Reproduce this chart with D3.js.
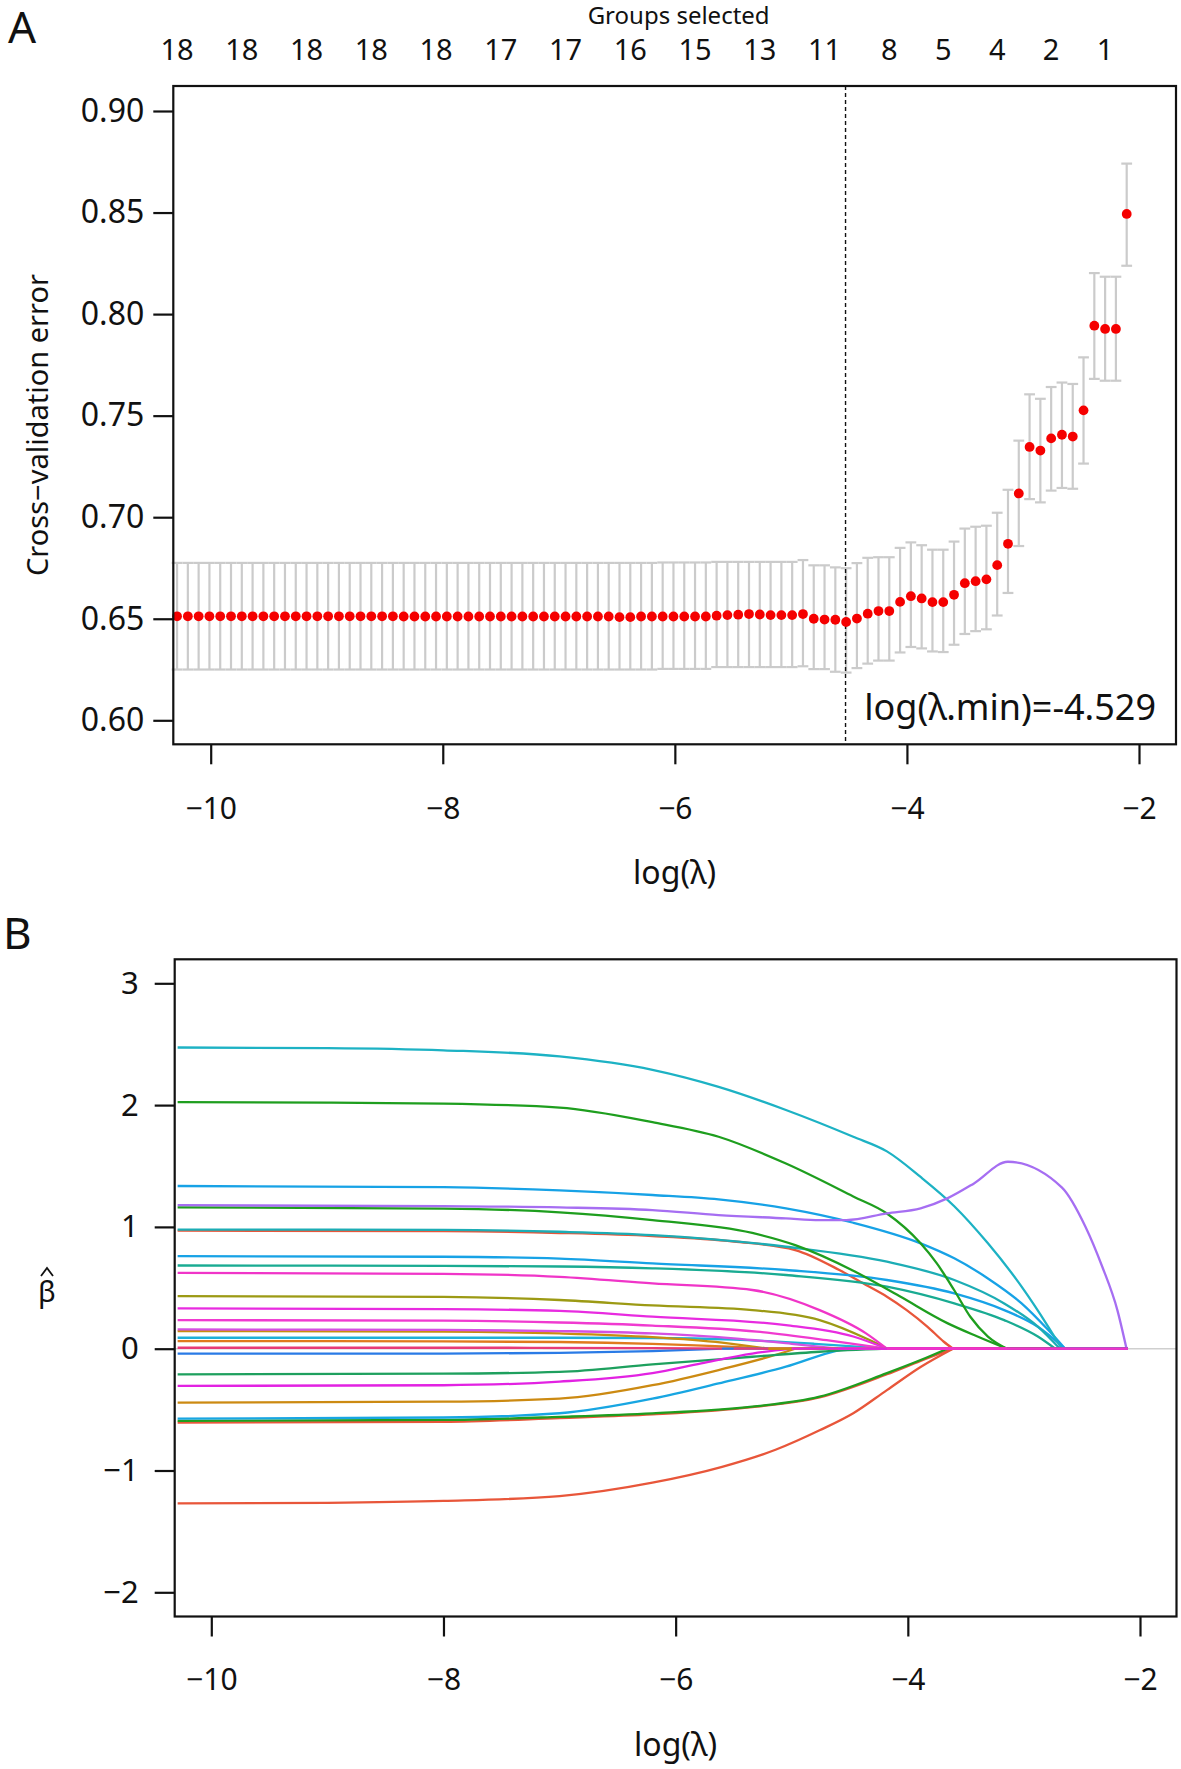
<!DOCTYPE html>
<html><head><meta charset="utf-8">
<script src="https://cdn.jsdelivr.net/npm/d3@7"></script>
<style>
body{margin:0;background:#fff;}
svg text{font-family:"Noto Sans","Open Sans",sans-serif;fill:#111;}
</style></head><body>
<svg id="c" width="1181" height="1769"></svg>
<script>
// ---------- Panel A data ----------
const logLambda = [
 -10.290,-10.197,-10.104,-10.011,-9.918,-9.825,-9.732,-9.639,-9.546,-9.453,
 -9.360,-9.267,-9.174,-9.081,-8.988,-8.895,-8.802,-8.709,-8.616,-8.523,
 -8.430,-8.337,-8.244,-8.151,-8.058,-7.965,-7.872,-7.779,-7.686,-7.593,
 -7.500,-7.407,-7.314,-7.221,-7.128,-7.035,-6.942,-6.849,-6.756,-6.663,
 -6.570,-6.477,-6.384,-6.291,-6.198,-6.105,-6.012,-5.919,-5.826,-5.733,
 -5.640,-5.547,-5.454,-5.361,-5.268,-5.175,-5.082,-4.989,-4.896,-4.803,
 -4.710,-4.617,-4.524,-4.431,-4.338,-4.245,-4.152,-4.059,-3.966,-3.873,
 -3.780,-3.687,-3.594,-3.501,-3.408,-3.315,-3.222,-3.129,-3.036,-2.943,
 -2.850,-2.757,-2.664,-2.571,-2.478,-2.385,-2.292,-2.199,-2.106];
const cvMean = [
 0.6512,0.6512,0.6512,0.6512,0.6512,0.6512,0.6512,0.6512,0.6512,0.6512,
 0.6512,0.6512,0.6512,0.6512,0.6512,0.6512,0.6512,0.6512,0.6512,0.6512,
 0.6512,0.6511,0.6511,0.6511,0.6511,0.6511,0.6511,0.6511,0.6511,0.6511,
 0.6511,0.6511,0.6511,0.6511,0.6511,0.6511,0.6511,0.6511,0.6511,0.6511,
 0.6511,0.6508,0.6508,0.6511,0.6511,0.6511,0.6511,0.6511,0.6511,0.6511,
 0.6515,0.6518,0.6520,0.6523,0.6521,0.6518,0.6518,0.6518,0.6523,0.6500,
 0.6496,0.6495,0.6484,0.6501,0.6525,0.6538,0.6538,0.6583,0.6611,0.6600,
 0.6582,0.6582,0.6618,0.6675,0.6685,0.6694,0.6764,0.6869,0.7117,0.7346,
 0.7328,0.7388,0.7406,0.7397,0.7526,0.7943,0.7927,0.7927,0.8493];
const cvUpper = [
 0.6775,0.6775,0.6775,0.6775,0.6775,0.6775,0.6775,0.6775,0.6775,0.6775,
 0.6775,0.6775,0.6775,0.6775,0.6775,0.6775,0.6775,0.6775,0.6775,0.6775,
 0.6775,0.6775,0.6775,0.6775,0.6775,0.6775,0.6775,0.6775,0.6775,0.6775,
 0.6775,0.6775,0.6775,0.6775,0.6775,0.6775,0.6775,0.6775,0.6775,0.6775,
 0.6775,0.6775,0.6775,0.6775,0.6775,0.6777,0.6777,0.6777,0.6777,0.6777,
 0.6780,0.6780,0.6780,0.6780,0.6780,0.6780,0.6780,0.6780,0.6789,0.6763,
 0.6763,0.6753,0.6749,0.6774,0.6800,0.6803,0.6803,0.6849,0.6876,0.6862,
 0.6840,0.6840,0.6880,0.6944,0.6953,0.6958,0.7022,0.7135,0.7377,0.7605,
 0.7583,0.7641,0.7663,0.7656,0.7787,0.8202,0.8184,0.8184,0.8741];
const cvLower = [
 0.6250,0.6250,0.6250,0.6250,0.6250,0.6250,0.6250,0.6250,0.6250,0.6250,
 0.6250,0.6250,0.6250,0.6250,0.6250,0.6250,0.6250,0.6250,0.6250,0.6250,
 0.6250,0.6250,0.6250,0.6250,0.6250,0.6250,0.6250,0.6250,0.6250,0.6250,
 0.6250,0.6250,0.6250,0.6250,0.6250,0.6250,0.6250,0.6250,0.6250,0.6250,
 0.6250,0.6250,0.6250,0.6250,0.6250,0.6253,0.6253,0.6253,0.6253,0.6253,
 0.6262,0.6262,0.6262,0.6262,0.6262,0.6262,0.6262,0.6262,0.6266,0.6252,
 0.6252,0.6239,0.6235,0.6257,0.6279,0.6294,0.6294,0.6334,0.6361,0.6354,
 0.6339,0.6336,0.6372,0.6425,0.6439,0.6448,0.6516,0.6627,0.6858,0.7089,
 0.7073,0.7131,0.7144,0.7140,0.7264,0.7681,0.7672,0.7672,0.8238];
const groupsAt = [-10.290,-9.732,-9.174,-8.616,-8.058,-7.500,-6.942,-6.384,-5.826,-5.268,-4.710,-4.152,-3.687,-3.222,-2.757,-2.292];
const groupsLabels = ["18","18","18","18","18","17","17","16","15","13","11","8","5","4","2","1"];
const xTicks = [-10,-8,-6,-4,-2];
const yTicksA = [0.60,0.65,0.70,0.75,0.80,0.85,0.90];
const lambdaMin = -4.529;

// ---------- Panel B data (coefficient paths, [logλ, β]) ----------
const yTicksB = [-2,-1,0,1,2,3];
const lambdaMax = -2.106;
const pCyan    = [[-10.29,2.473],[-9,2.468],[-8,2.45],[-7,2.40],[-6.2,2.29],[-5.63,2.15],[-5.05,1.96],[-4.47,1.74],[-4.18,1.62],[-3.89,1.41],[-3.6,1.17],[-3.31,0.865],[-3.02,0.51],[-2.79,0.18],[-2.674,0]];
const pGreen   = [[-10.29,2.025],[-9,2.02],[-8,2.012],[-7,1.98],[-6.2,1.86],[-5.63,1.74],[-5.05,1.52],[-4.47,1.25],[-4.18,1.11],[-3.89,0.865],[-3.75,0.70],[-3.6,0.48],[-3.46,0.26],[-3.31,0.10],[-3.147,0]];
const pBlue    = [[-10.29,1.336],[-8,1.326],[-7,1.30],[-6.2,1.262],[-5.63,1.226],[-5.05,1.152],[-4.47,1.034],[-3.89,0.865],[-3.6,0.742],[-3.31,0.577],[-3.02,0.372],[-2.79,0.153],[-2.645,0]];
const pGreen2  = [[-10.29,1.161],[-8,1.15],[-7,1.12],[-6.2,1.056],[-5.34,0.95],[-4.97,0.85],[-4.47,0.64],[-4.07,0.43],[-3.66,0.21],[-3.4,0.10],[-3.147,0]];
const pRed     = [[-10.29,0.970],[-8,0.965],[-7,0.95],[-6.2,0.925],[-5.5,0.88],[-4.97,0.81],[-4.59,0.646],[-4.36,0.523],[-4.18,0.427],[-4.01,0.317],[-3.83,0.18],[-3.69,0.057],[-3.611,0]];
const pTeal    = [[-10.29,0.978],[-8,0.975],[-7,0.96],[-6.2,0.933],[-5.05,0.837],[-4.18,0.714],[-3.6,0.564],[-3.17,0.372],[-2.88,0.181],[-2.69,0]];
const pBlue2   = [[-10.29,0.760],[-8,0.755],[-7,0.74],[-6.2,0.70],[-5.05,0.646],[-4.18,0.564],[-3.6,0.454],[-3.17,0.317],[-2.88,0.18],[-2.645,0]];
const pTeal2   = [[-10.29,0.683],[-8,0.68],[-7,0.675],[-6.2,0.66],[-5.05,0.605],[-4.18,0.509],[-3.6,0.372],[-3.17,0.235],[-2.88,0.10],[-2.73,0]];
const pMag1    = [[-10.29,0.623],[-8,0.615],[-7,0.59],[-6.2,0.536],[-5.34,0.482],[-4.76,0.317],[-4.36,0.126],[-4.18,0]];
const pOlive   = [[-10.29,0.432],[-8,0.425],[-7,0.40],[-6.2,0.355],[-5.34,0.317],[-4.76,0.235],[-4.33,0.071],[-4.18,0]];
const pMag2    = [[-10.29,0.331],[-8,0.325],[-7,0.31],[-6.2,0.263],[-5.05,0.194],[-4.47,0.10],[-4.18,0]];
const pMag3    = [[-10.29,0.235],[-8,0.23],[-7,0.215],[-6.2,0.19],[-5.3,0.14],[-4.7,0.07],[-4.18,0]];
const pPink    = [[-10.29,0.158],[-8,0.155],[-7,0.145],[-6.2,0.125],[-5.5,0.085],[-5.0,0.04],[-4.6,0]];
const pOrange  = [[-10.29,0.145],[-8,0.14],[-7,0.125],[-6.2,0.095],[-5.6,0.05],[-5.2,0]];
const pCyanS   = [[-10.29,0.090],[-8,0.09],[-7,0.09],[-6.2,0.088],[-5.5,0.075],[-4.8,0.04],[-4.18,0]];
const pOrange2 = [[-10.29,0.063],[-8,0.06],[-7,0.055],[-6.2,0.04],[-5.5,0.015],[-5.2,0]];
const pRose    = [[-10.29,0.008],[-8,0.008],[-6.2,0.005],[-5.5,0]];
const pBlueS   = [[-10.29,-0.041],[-8,-0.04],[-7,-0.035],[-6.2,-0.02],[-5.6,0]];
const pGreen3  = [[-10.29,-0.21],[-8,-0.205],[-7,-0.19],[-6.2,-0.128],[-5.34,-0.066],[-4.76,-0.025],[-4.18,0]];
const pMag4    = [[-10.29,-0.306],[-8,-0.30],[-7,-0.27],[-6.2,-0.2],[-5.78,-0.12],[-5.34,-0.04],[-5.0,0]];
const pOrange3 = [[-10.29,-0.443],[-8,-0.435],[-7,-0.41],[-6.2,-0.30],[-5.63,-0.175],[-5.05,-0.025],[-4.97,0]];
const pCyan2   = [[-10.29,-0.574],[-8,-0.565],[-7,-0.53],[-6.2,-0.41],[-5.63,-0.285],[-5.05,-0.148],[-4.59,-0.011],[-4.53,0]];
const pGreen4  = [[-10.29,-0.593],[-8,-0.585],[-7,-0.56],[-6.2,-0.531],[-5.34,-0.476],[-4.76,-0.394],[-4.18,-0.2],[-3.89,-0.093],[-3.66,0]];
const pRed2    = [[-10.29,-0.607],[-8,-0.60],[-7,-0.57],[-6.2,-0.54],[-5.34,-0.48],[-4.76,-0.40],[-4.18,-0.21],[-3.89,-0.10],[-3.611,0]];
const pRedLow  = [[-10.29,-1.27],[-9,-1.265],[-8,-1.25],[-7,-1.21],[-6.2,-1.10],[-5.6,-0.97],[-5.14,-0.83],[-4.76,-0.67],[-4.47,-0.53],[-4.18,-0.34],[-3.89,-0.15],[-3.611,0]];
const pPurple  = [[-10.29,1.178],[-8,1.17],[-7,1.16],[-6.2,1.138],[-5.63,1.097],[-5.05,1.07],[-4.76,1.056],[-4.53,1.056],[-4.18,1.111],[-3.89,1.152],[-3.66,1.234],[-3.43,1.357],[-3.138,1.535],[-2.674,1.325],[-2.47,1.002],[-2.325,0.673],[-2.195,0.317],[-2.116,0]];

const coefPaths = [pRedLow,pRed2,pGreen4,pCyan2,pOrange3,pGreen3,pBlueS,pRose,pOrange2,pCyanS,pOrange,pPink,pOlive,pMag3,pMag2,pRed,pTeal2,pBlue2,pTeal,pGreen2,pBlue,pGreen,pCyan,pPurple,pMag4,pMag1];
const coefColors = ["#E8563A","#E8563A","#1E9E1E","#18A6E2","#CC8A12","#1EA05E","#2A7BE6","#E83A78","#E07A1E","#1FB0D8","#C98D10","#D451E2","#9C9A14","#F03AD0","#E82BE0","#E8563A","#19AB92","#17A2E6","#1CADB5","#1E9E1E","#17A2E6","#1E9E1E","#1DB2C4","#A66EF2","#E222E2","#F035C8"];

// ---------- drawing ----------
const svg = d3.select("#c");
const FS = 29;

// Panel A
const A = {l:173.3, r:1176, t:86, b:744.3};
const xA = d3.scaleLinear().domain([-10,-2]).range([210.7,1139]);
const yA = d3.scaleLinear().domain([0.60,0.90]).range([720.3,111]);

svg.append("text").attr("x",8).attr("y",43).attr("font-size",44).text("A");
svg.append("text").attr("x",(A.l+A.r)/2+4).attr("y",24).attr("text-anchor","middle").attr("font-size",24).text("Groups selected");
svg.append("g").selectAll("text").data(groupsAt).join("text")
  .attr("x",d=>xA(d)).attr("y",60).attr("text-anchor","middle").attr("font-size",FS)
  .text((d,i)=>groupsLabels[i]);

const gA = svg.append("g");
const eb = gA.append("g").attr("stroke","#cbcbcb").attr("stroke-width",2.2).attr("fill","none");
logLambda.forEach((x,i)=>{
  const cx = xA(x), yu = yA(cvUpper[i]), yl = yA(cvLower[i]);
  eb.append("line").attr("x1",cx).attr("x2",cx).attr("y1",yu).attr("y2",yl);
  eb.append("line").attr("x1",cx-5.4).attr("x2",cx+5.4).attr("y1",yu).attr("y2",yu);
  eb.append("line").attr("x1",cx-5.4).attr("x2",cx+5.4).attr("y1",yl).attr("y2",yl);
});
gA.append("line").attr("x1",xA(lambdaMin)).attr("x2",xA(lambdaMin)).attr("y1",A.t).attr("y2",A.b)
  .attr("stroke","#111").attr("stroke-width",1.4).attr("stroke-dasharray","4,3");
gA.append("g").selectAll("circle").data(logLambda).join("circle")
  .attr("cx",d=>xA(d)).attr("cy",(d,i)=>yA(cvMean[i])).attr("r",4.9).attr("fill","#f50000");
gA.append("rect").attr("x",A.l).attr("y",A.t).attr("width",A.r-A.l).attr("height",A.b-A.t)
  .attr("fill","none").attr("stroke","#111").attr("stroke-width",2.2);

const axA_y = svg.append("g").attr("transform",`translate(${A.l},0)`)
  .call(d3.axisLeft(yA).tickValues(yTicksA).tickSize(20).tickPadding(9).tickFormat(d3.format(".2f")));
const axA_x = svg.append("g").attr("transform",`translate(0,${A.b})`)
  .call(d3.axisBottom(xA).tickValues(xTicks).tickSize(20).tickPadding(33).tickFormat(d3.format("d")));
[axA_y,axA_x].forEach(g=>{g.select(".domain").remove();g.selectAll("line").attr("stroke","#111").attr("stroke-width",2.2);
  g.selectAll("text").attr("font-family",null).attr("fill","#111");});
axA_y.selectAll("text").attr("font-size",32);
axA_x.selectAll("text").attr("font-size",30);

svg.append("text").attr("transform",`translate(48,425) rotate(-90)`).attr("text-anchor","middle")
  .attr("font-size",29).text("Cross\u2212validation error");
svg.append("text").attr("x",(A.l+A.r)/2).attr("y",884).attr("text-anchor","middle").attr("font-size",32).text("log(\u03BB)");
svg.append("text").attr("x",1156).attr("y",720).attr("text-anchor","end").attr("font-size",36).text("log(\u03BB.min)=-4.529");

// Panel B
const B = {l:174.7, r:1176.5, t:959.3, b:1616.5};
const xB = d3.scaleLinear().domain([-10,-2]).range([211.3,1140]);
const yB = d3.scaleLinear().domain([-2,3]).range([1592.3,983.3]);
svg.append("text").attr("x",3).attr("y",949).attr("font-size",44).text("B");

const gB = svg.append("g");
gB.append("line").attr("x1",B.l).attr("x2",B.r).attr("y1",yB(0)).attr("y2",yB(0)).attr("stroke","#cfcfcf").attr("stroke-width",1.6);
const lineB = d3.line().x(d=>xB(d[0])).y(d=>yB(d[1])).curve(d3.curveMonotoneX);
const lineStraight = d3.line().x(d=>xB(d[0])).y(d=>yB(d[1]));
coefPaths.forEach((p,i)=>{
  gB.append("path").attr("d",lineB(p)).attr("fill","none").attr("stroke",coefColors[i]).attr("stroke-width",2.3);
});
coefPaths.forEach((p,i)=>{
  const last = p[p.length-1];
  gB.append("path").attr("d",lineStraight([last,[lambdaMax,0]])).attr("fill","none").attr("stroke",coefColors[i]).attr("stroke-width",2.3);
});
gB.append("rect").attr("x",B.l).attr("y",B.t).attr("width",B.r-B.l).attr("height",B.b-B.t)
  .attr("fill","none").attr("stroke","#111").attr("stroke-width",2.2);

const axB_y = svg.append("g").attr("transform",`translate(${B.l},0)`)
  .call(d3.axisLeft(yB).tickValues(yTicksB).tickSize(20).tickPadding(16).tickFormat(d3.format("d")));
const axB_x = svg.append("g").attr("transform",`translate(0,${B.b})`)
  .call(d3.axisBottom(xB).tickValues(xTicks).tickSize(20).tickPadding(32).tickFormat(d3.format("d")));
[axB_y,axB_x].forEach(g=>{g.select(".domain").remove();g.selectAll("line").attr("stroke","#111").attr("stroke-width",2.2);
  g.selectAll("text").attr("font-family",null).attr("fill","#111");});
axB_y.selectAll("text").attr("font-size",31);
axB_x.selectAll("text").attr("font-size",30);

// y label: beta with a hat accent above it
svg.append("text").attr("x",47).attr("y",1302).attr("text-anchor","middle").attr("font-size",FS).text("\u03B2");
svg.append("path").attr("d","M41,1276 L47,1268 L53,1276").attr("fill","none").attr("stroke","#111").attr("stroke-width",1.8);
svg.append("text").attr("x",(B.l+B.r)/2).attr("y",1756).attr("text-anchor","middle").attr("font-size",32).text("log(\u03BB)");
</script>
</body></html>
